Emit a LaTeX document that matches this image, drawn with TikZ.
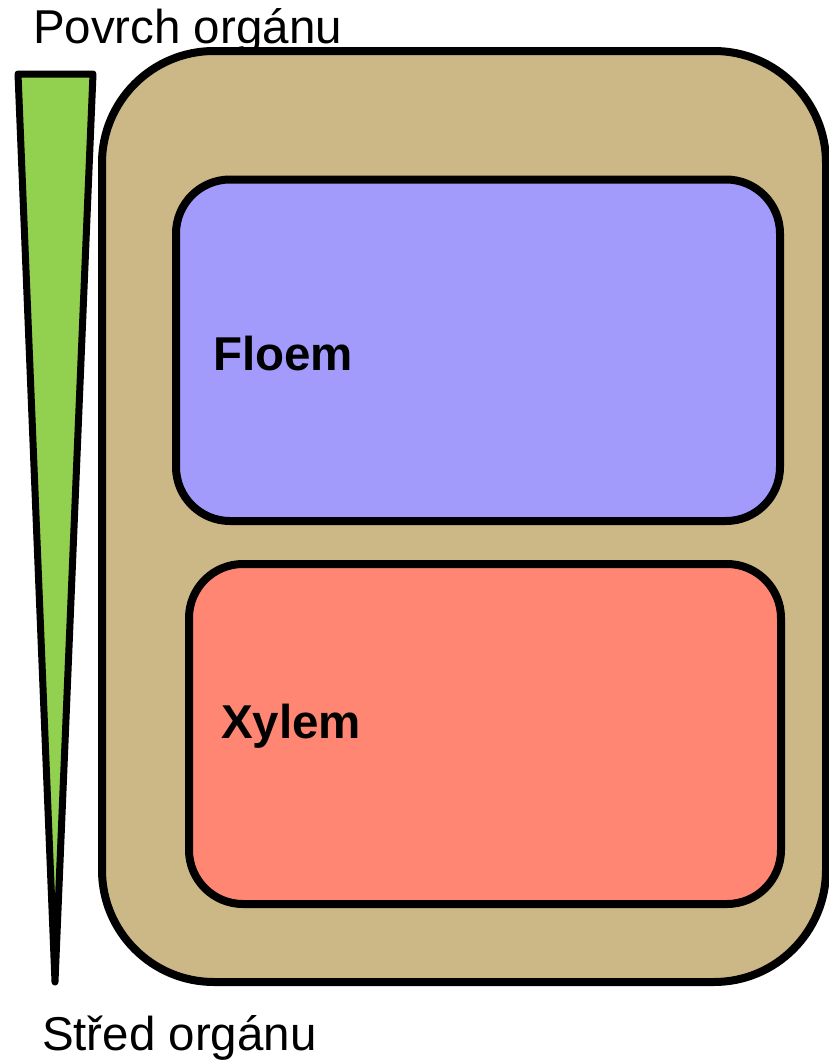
\documentclass[tikz,border=0pt]{standalone}
\usepackage{fontspec}
\setmainfont{Liberation Sans}
\definecolor{tanfill}{HTML}{CBB886}
\definecolor{floemfill}{HTML}{A29BFB}
\definecolor{xylemfill}{HTML}{FF8673}
\definecolor{greenfill}{HTML}{92D050}
\begin{document}
\begin{tikzpicture}[x=1pt,y=-1pt,
  box/.style={draw=black, line width=8pt, inner sep=0pt, outer sep=0pt},
  lbl/.style={inner sep=0pt, outer sep=0pt, anchor=base west, font=\fontsize{47.5}{52}\selectfont},
  blbl/.style={inner sep=0pt, outer sep=0pt, anchor=base west, font=\fontsize{47.5}{52}\selectfont\bfseries}]
\useasboundingbox (0,0) rectangle (829,1060);
% organ outline
\node[box, fill=tanfill, rounded corners=112pt, minimum width=724pt, minimum height=931pt] (organ) at (464,516.5) {};
% phloem
\node[box, fill=floemfill, rounded corners=54pt, minimum width=604pt, minimum height=341.5pt] (floem) at (478,350.25) {};
% xylem
\node[box, fill=xylemfill, rounded corners=54pt, minimum width=592pt, minimum height=340pt] (xylem) at (485,734) {};
% gradient wedge
\draw[line width=7pt, line join=round, line cap=round, fill=greenfill] (18,74) -- (93,74) -- (55,982) -- cycle;
% texts
\node[lbl] (povrch) at (33,43) {Povrch orgánu};
\node[lbl] (stred) at (42,1050) {Střed orgánu};
\node[blbl] (floemtxt) at (213,370) {Floem};
\node[blbl] (xylemtxt) at (221,738) {Xylem};
\end{tikzpicture}
\end{document}
